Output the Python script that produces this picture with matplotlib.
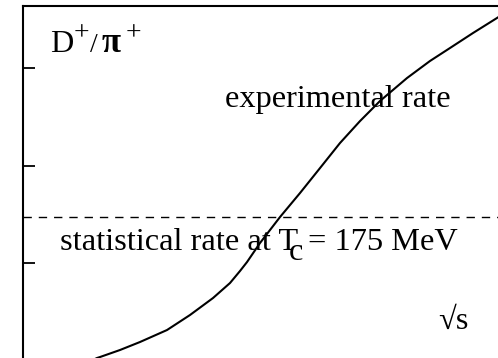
import matplotlib
matplotlib.use("Agg")
import matplotlib.pyplot as plt

plt.rcParams['font.family'] = ['Liberation Serif', 'DejaVu Serif']

# sqrt(s) in arbitrary units vs D+/pi+ ratio
sqrt_s = [1.45, 1.558, 1.621, 2.042, 2.463, 3.032, 3.516, 4.000, 4.358,
          4.568, 4.716, 4.989, 5.411, 5.832, 6.253, 6.674, 7.095, 7.516,
          8.084, 8.568, 8.989, 9.474, 9.979, 10.05]
ratio = [0.000, 0.026, 0.036, 0.108, 0.190, 0.313, 0.467, 0.641, 0.795,
         0.918, 1.010, 1.205, 1.472, 1.718, 1.974, 2.231, 2.456, 2.662,
         2.897, 3.072, 3.205, 3.359, 3.513, 3.535]
stat_rate = 1.47
yticks = [1, 2, 3]

fig = plt.figure(figsize=(4.98, 3.58), dpi=100)
ax = fig.add_axes([23 / 498, 0.0, 1 - 23 / 498, 1 - 6 / 358])

ax.plot(sqrt_s, ratio, color='black', linewidth=1.5,
        solid_joinstyle='round')
ax.axhline(stat_rate, color='black', linewidth=1.0, dashes=(6, 5))

ax.set_xlim(0, 10)
ax.set_ylim(0.026, 3.636)
ax.set_xticks([])
ax.set_yticks(yticks)
ax.set_yticklabels([])
ax.tick_params(axis='y', direction='in', length=8.6, width=1.3)
for side in ['bottom', 'right']:
    ax.spines[side].set_visible(False)
for side in ['left', 'top']:
    ax.spines[side].set_linewidth(1.5)

fs = 23.3

# y label: D+ / pi+ with big raised plus signs
ax.text(0.568, 3.164, 'D', fontsize=fs)
ax.text(1.074, 3.287, '+', fontsize=20)
ax.text(1.41, 3.164, '/', fontsize=20)
ax.text(1.663, 3.164, 'π', fontsize=25, fontweight='bold')
ax.text(2.168, 3.287, '+', fontsize=20)

ax.text(4.25, 2.60, 'experimental rate', fontsize=fs)

# statistical rate label, subscript c kept near full size
t1 = ax.text(0.78, 1.13, 'statistical rate at T', fontsize=fs)
t2 = ax.annotate('c', xy=(1, 0), xycoords=t1, xytext=(-6.5, -7.0),
                 textcoords='offset points', fontsize=fs, va='bottom')
ax.annotate('= 175 MeV', xy=(1, 0), xycoords=t2, xytext=(3, 7.0),
            textcoords='offset points', fontsize=fs, va='bottom')

ax.text(8.74, 0.32, '√s', fontsize=fs)

fig.savefig('out.png', dpi=100)
